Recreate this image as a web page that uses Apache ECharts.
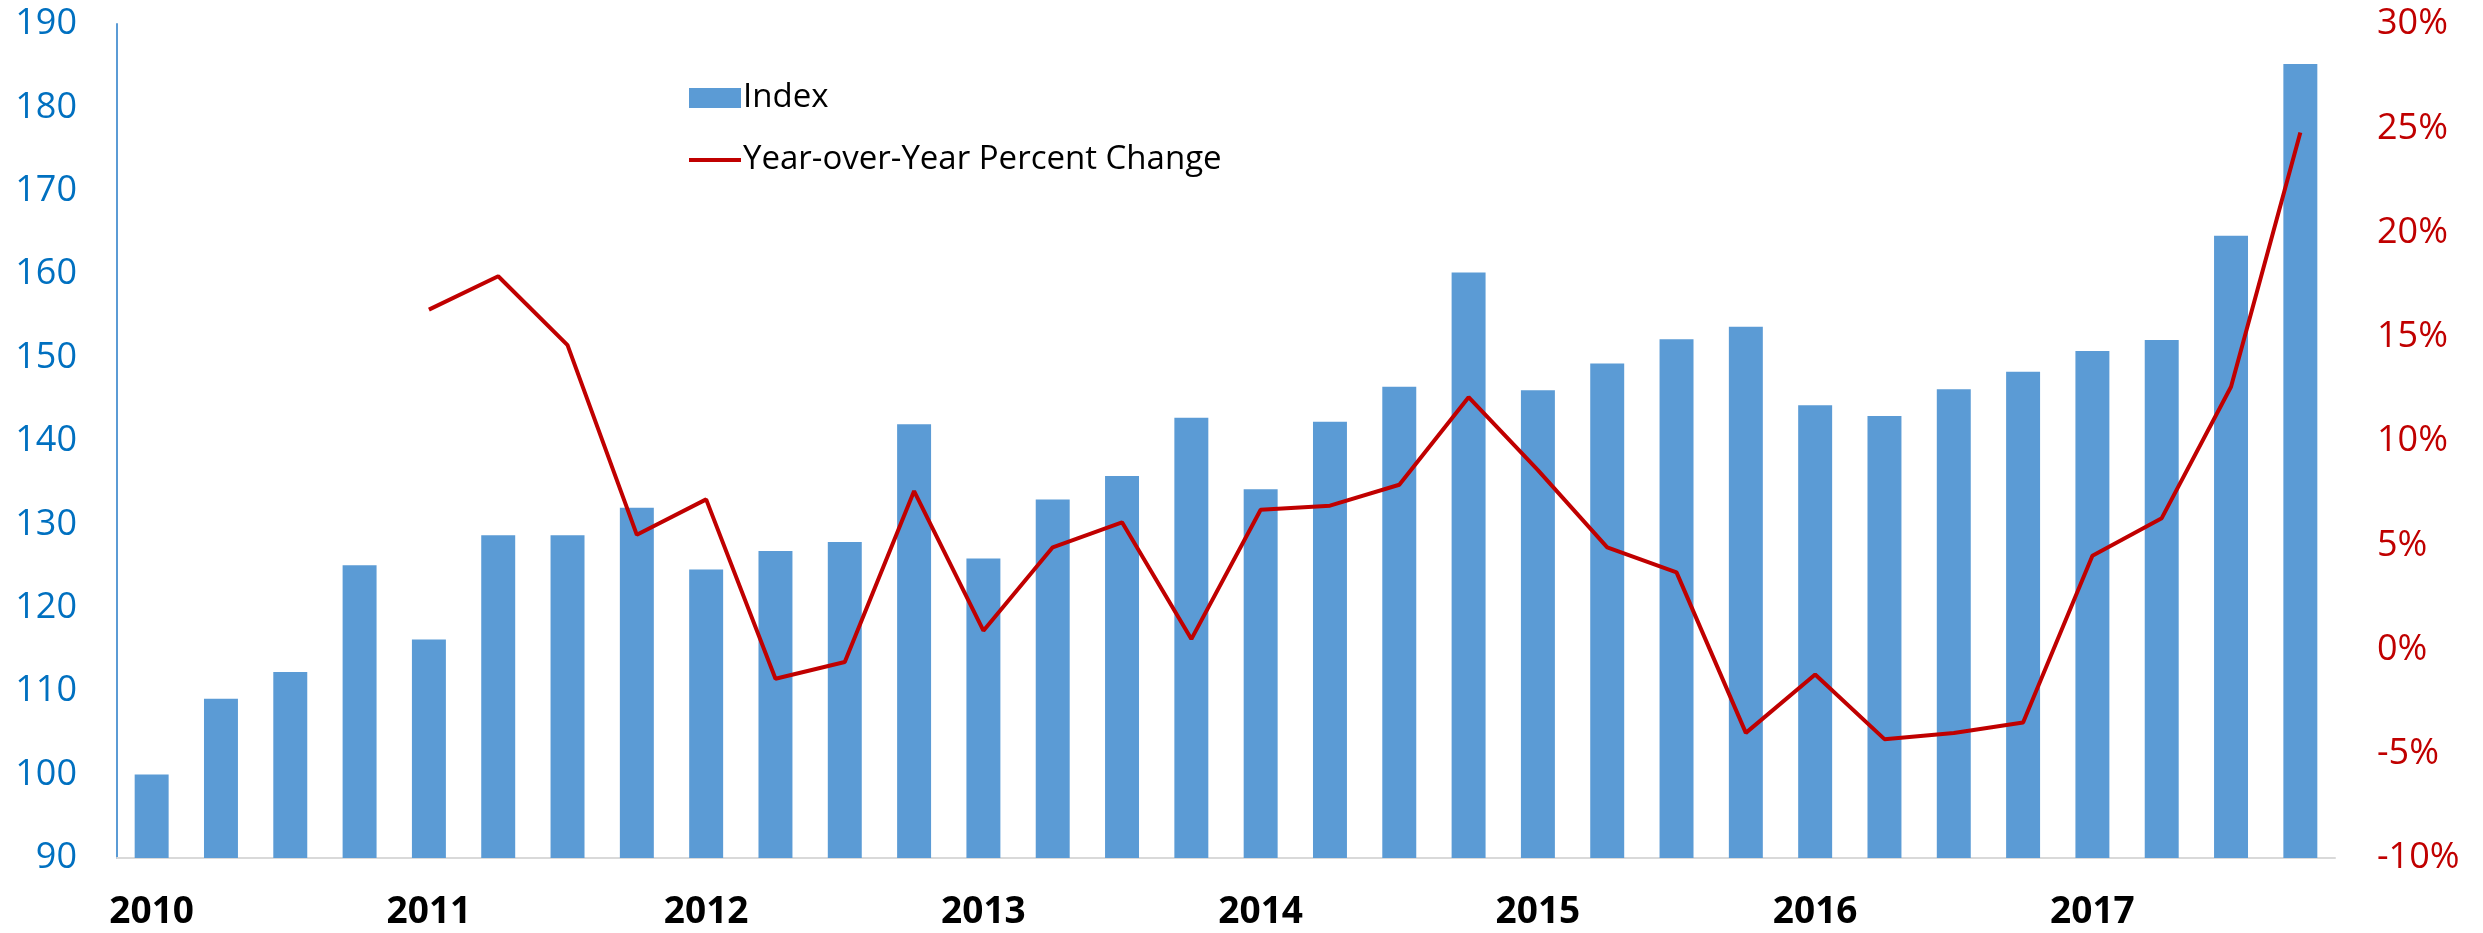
<!DOCTYPE html>
<html>
<head>
<meta charset="utf-8">
<script src="https://cdn.jsdelivr.net/npm/echarts@6/dist/echarts.min.js"></script>
<style>
html,body{margin:0;padding:0;background:#fff;}
#chart{width:2483px;height:933px;}
</style>
</head>
<body>
<div id="chart"></div>
<script>
const categories = [
  '2010','2010 Q2','2010 Q3','2010 Q4',
  '2011','2011 Q2','2011 Q3','2011 Q4',
  '2012','2012 Q2','2012 Q3','2012 Q4',
  '2013','2013 Q2','2013 Q3','2013 Q4',
  '2014','2014 Q2','2014 Q3','2014 Q4',
  '2015','2015 Q2','2015 Q3','2015 Q4',
  '2016','2016 Q2','2016 Q3','2016 Q4',
  '2017','2017 Q2','2017 Q3','2017 Q4'
];
const indexValues = [
  100.0, 109.1, 112.3, 125.1,
  116.2, 128.7, 128.7, 132.0,
  124.6, 126.8, 127.9, 142.0,
  125.9, 133.0, 135.8, 142.8,
  134.2, 142.3, 146.5, 160.2,
  146.1, 149.3, 152.2, 153.7,
  144.3, 143.0, 146.2, 148.3,
  150.8, 152.1, 164.6, 185.2
];
const yoyValues = [
  null, null, null, null,
  16.3, 17.9, 14.6, 5.5,
  7.2, -1.4, -0.6, 7.6,
  0.9, 4.9, 6.1, 0.5,
  6.7, 6.9, 7.9, 12.1,
  8.6, 4.9, 3.7, -4.0,
  -1.2, -4.3, -4.0, -3.5,
  4.5, 6.3, 12.6, 24.8
];
const leftTicks = {min: 90, max: 190, interval: 10};
const rightTicks = {min: -10, max: 30, interval: 5};

const chart = echarts.init(document.getElementById('chart'));
chart.setOption({
  animation: false,
  backgroundColor: '#ffffff',
  textStyle: {fontFamily: 'Open Sans'},
  grid: {left: 117, right: 148, top: 24, bottom: 75, containLabel: false},
  legend: {
    orient: 'vertical',
    left: 684,
    top: 74,
    itemWidth: 52,
    itemHeight: 20,
    itemGap: 24,
    symbolKeepAspect: true,
    textStyle: {fontSize: 33, color: '#000000', fontFamily: 'Open Sans', lineHeight: 38, padding: [0,0,0,-3]},
    data: [
      {name: 'Index', icon: 'rect'},
      {name: 'Year-over-Year Percent Change', icon: 'path://M0,0 L52,0 L52,4 L0,4 Z'}
    ]
  },
  xAxis: {
    type: 'category',
    data: categories,
    axisLine: {show: true, onZero: false, lineStyle: {color: '#D9D9D9', width: 2}},
    axisTick: {show: false},
    axisLabel: {
      interval: 3,
      formatter: function (v) { return v.slice(0, 4); },
      fontSize: 37,
      fontWeight: 'bold',
      color: '#000000',
      margin: 36,
      fontFamily: 'Open Sans'
    }
  },
  yAxis: [
    {
      type: 'value',
      min: leftTicks.min, max: leftTicks.max, interval: leftTicks.interval,
      axisLine: {show: true, lineStyle: {color: '#5B9BD5', width: 2}},
      axisTick: {show: false},
      splitLine: {show: false},
      axisLabel: {fontSize: 36, color: '#0070C0', margin: 40, fontFamily: 'Open Sans'}
    },
    {
      type: 'value',
      min: rightTicks.min, max: rightTicks.max, interval: rightTicks.interval,
      axisLine: {show: false},
      axisTick: {show: false},
      splitLine: {show: false},
      axisLabel: {fontSize: 36, color: '#C00000', margin: 42, formatter: '{value}%', fontFamily: 'Open Sans'}
    }
  ],
  series: [
    {
      name: 'Index',
      type: 'bar',
      yAxisIndex: 0,
      data: indexValues,
      barWidth: '49%',
      itemStyle: {color: '#5B9BD5'}
    },
    {
      name: 'Year-over-Year Percent Change',
      type: 'line',
      yAxisIndex: 1,
      data: yoyValues,
      symbol: 'none',
      showSymbol: false,
      connectNulls: false,
      lineStyle: {color: '#C00000', width: 4},
      itemStyle: {color: '#C00000'}
    }
  ]
});
</script>
</body>
</html>
